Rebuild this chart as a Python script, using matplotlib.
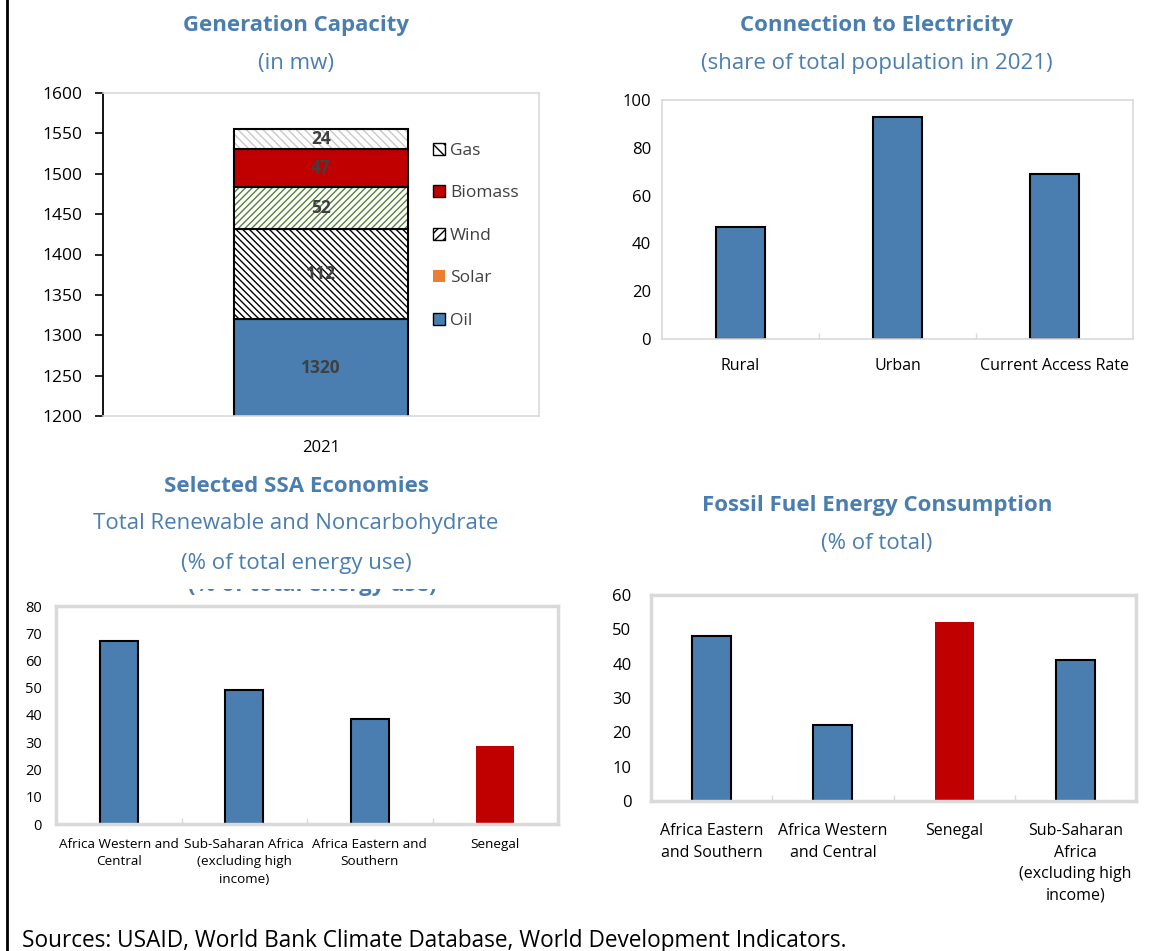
import numpy as np
import matplotlib
matplotlib.use('Agg')
import matplotlib.pyplot as plt
from matplotlib.patches import Patch
from matplotlib.lines import Line2D
from matplotlib.transforms import Bbox, TransformedBbox

plt.rcParams['font.family'] = ['Open Sans', 'DejaVu Sans']
plt.rcParams['hatch.linewidth'] = 1.0

# data
gen_year = ['2021']
gen_series = ['Oil', 'Other', 'Wind', 'Biomass', 'Gas']
gen_values = [1320, 112, 52, 47, 24]
legend_order = ['Gas', 'Biomass', 'Wind', 'Solar', 'Oil']

conn_cats = ['Rural', 'Urban', 'Current Access Rate']
conn_vals = [47, 93, 69]

renew_cats = ['Africa Western and\nCentral', 'Sub-Saharan Africa\n(excluding high\nincome)',
              'Africa Eastern and\nSouthern', 'Senegal']
renew_vals = [67, 49, 38.7, 28.6]

fossil_cats = ['Africa Eastern\nand Southern', 'Africa Western\nand Central', 'Senegal',
               'Sub-Saharan\nAfrica\n(excluding high\nincome)']
fossil_vals = [48, 22, 52, 41]

blue = '#4a7eb0'
red = '#c00000'
title_col = '#4a7eb0'
frame = '#d9d9d9'

W, H = 1163, 951
fig = plt.figure(figsize=(W/100, H/100), dpi=100)

def rect(l, t, r, b):
    return [l/W, 1-b/H, (r-l)/W, (b-t)/H]

def ftext(x, y, s, **kw):
    # y is the visual centre in pixels from the top; nudge for descender space
    return fig.text(x/W, 1-(y+3)/H, s, ha='center', va='center', color=title_col, **kw)

def cat_axis(ax, cats, fs, pad, lw):
    n = len(cats)
    ax.set_xlim(-0.5, n-0.5)
    ax.set_xticks(range(n))
    ax.set_xticklabels(cats, fontsize=fs, linespacing=1.45)
    ax.set_xticks(np.arange(0.5, n-1, 1), minor=True)
    ax.tick_params(axis='x', which='major', length=0, pad=pad)
    ax.tick_params(axis='x', which='minor', length=4, direction='in', color=frame, width=1)
    for s in ax.spines.values():
        s.set_color(frame)
        s.set_linewidth(lw)

# ---- Generation capacity
ax1 = fig.add_axes(rect(103, 93, 539, 416))
bottoms = np.cumsum([0] + gen_values[:-1])
styles = {
    'Oil': dict(color=blue, hatch=None, hc=None),
    'Other': dict(color='white', hatch='\\\\\\\\\\', hc='black'),
    'Wind': dict(color='white', hatch='/////', hc='#548235'),
    'Biomass': dict(color=red, hatch=None, hc=None),
    'Gas': dict(color='white', hatch='\\\\\\\\', hc='#c8c8c8'),
}
for name, v, b in zip(gen_series, gen_values, bottoms):
    st = styles[name]
    if st['hatch']:
        ax1.bar(0, v, bottom=b, width=0.4, color=st['color'], hatch=st['hatch'],
                edgecolor=st['hc'], linewidth=0)
        ax1.bar(0, v, bottom=b, width=0.4, color='none', edgecolor='black', linewidth=1.5)
    else:
        ax1.bar(0, v, bottom=b, width=0.4, color=st['color'], edgecolor='black', linewidth=1.5)
    ax1.text(0, max(b, 1200) + (b + v - max(b, 1200))/2, str(v), ha='center', va='center',
             fontsize=12.5, fontweight='bold', color='#404040')
ax1.set_ylim(1200, 1600)
ax1.set_yticks(np.arange(1200, 1601, 50))
ax1.set_xlim(-0.5, 0.5)
ax1.set_xticks([0])
ax1.set_xticklabels(gen_year, fontsize=12)
ax1.tick_params(axis='x', length=0, pad=17)
ax1.tick_params(axis='y', labelsize=12.5, length=6, width=1.2, direction='out', pad=9)
for s in ['top', 'right', 'bottom']:
    ax1.spines[s].set_color(frame)
    ax1.spines[s].set_linewidth(1.2)
ax1.spines['left'].set_linewidth(1.3)

leg_handles = {
    'Gas': Patch(facecolor='white', edgecolor='black', hatch='\\\\\\', label='Gas'),
    'Biomass': Patch(facecolor=red, edgecolor='black', label='Biomass'),
    'Wind': Patch(facecolor='white', edgecolor='black', hatch='////', label='Wind'),
    'Solar': Patch(facecolor='#ed7d31', edgecolor='none', label='Solar'),
    'Oil': Patch(facecolor=blue, edgecolor='black', label='Oil'),
}
ax1.legend(handles=[leg_handles[k] for k in legend_order], loc='upper left',
           bbox_to_anchor=(0.72, 0.895), frameon=False, fontsize=12.5,
           handlelength=0.7, handleheight=0.7, handletextpad=0.3, labelspacing=1.52,
           labelcolor='#404040')

ftext(296, 22, 'Generation Capacity', fontsize=16, fontweight='bold')
ftext(296, 60, '(in mw)', fontsize=16)

# ---- Connection to electricity
ax2 = fig.add_axes(rect(662, 100, 1133, 339))
ax2.bar(range(len(conn_cats)), conn_vals, width=0.31, color=blue, edgecolor='black', linewidth=1.5)
ax2.set_ylim(0, 100)
ax2.set_yticks(np.arange(0, 101, 20))
ax2.tick_params(axis='y', length=0, labelsize=12, pad=8)
cat_axis(ax2, conn_cats, 11.5, 14, 1.2)

ftext(877, 22, 'Connection to Electricity', fontsize=16, fontweight='bold')
ftext(877, 60, '(share of total population in 2021)', fontsize=16)

# ---- Renewable
ax3 = fig.add_axes(rect(56, 606, 558, 824))
cols3 = [red if c == 'Senegal' else blue for c in renew_cats]
ecs3 = ['none' if c == 'Senegal' else 'black' for c in renew_cats]
ax3.bar(range(len(renew_cats)), renew_vals, width=0.30, color=cols3, edgecolor=ecs3, linewidth=1.5)
ax3.set_ylim(0, 80)
ax3.set_yticks(np.arange(0, 81, 10))
ax3.tick_params(axis='y', length=0, labelsize=10.5, pad=10)
cat_axis(ax3, renew_cats, 9.7, 10, 2.5)

ftext(296, 483, 'Selected SSA Economies', fontsize=16, fontweight='bold')
ftext(296, 521, 'Total Renewable and Noncarbohydrate', fontsize=16)
ftext(296, 560, '(% of total energy use)', fontsize=16)
# clipped remnant of a hidden title line, as in the original
frag = ftext(312, 582, '(% of total energy use)', fontsize=16, fontweight='bold')
frag.set_clip_box(TransformedBbox(Bbox([[0, 0], [1, 1 - 589/H]]), fig.transFigure))
frag.set_clip_on(True)

# ---- Fossil fuel
ax4 = fig.add_axes(rect(651, 595, 1136, 801))
cols4 = [red if c == 'Senegal' else blue for c in fossil_cats]
ecs4 = ['none' if c == 'Senegal' else 'black' for c in fossil_cats]
ax4.bar(range(len(fossil_cats)), fossil_vals, width=0.32, color=cols4, edgecolor=ecs4, linewidth=1.5)
ax4.set_ylim(0, 60)
ax4.set_yticks(np.arange(0, 61, 10))
ax4.tick_params(axis='y', length=0, labelsize=12, pad=14)
cat_axis(ax4, fossil_cats, 11.5, 16, 2.5)

ftext(877, 503, 'Fossil Fuel Energy Consumption', fontsize=16, fontweight='bold')
ftext(877, 541, '(% of total)', fontsize=16)

fig.text(22/W, 1-941/H, 'Sources: USAID, World Bank Climate Database, World Development Indicators.',
         ha='left', va='center', fontsize=16.3)
fig.add_artist(Line2D([7/W, 7/W], [0, 1], color='black', linewidth=2))

fig.savefig('out.png', dpi=100)
